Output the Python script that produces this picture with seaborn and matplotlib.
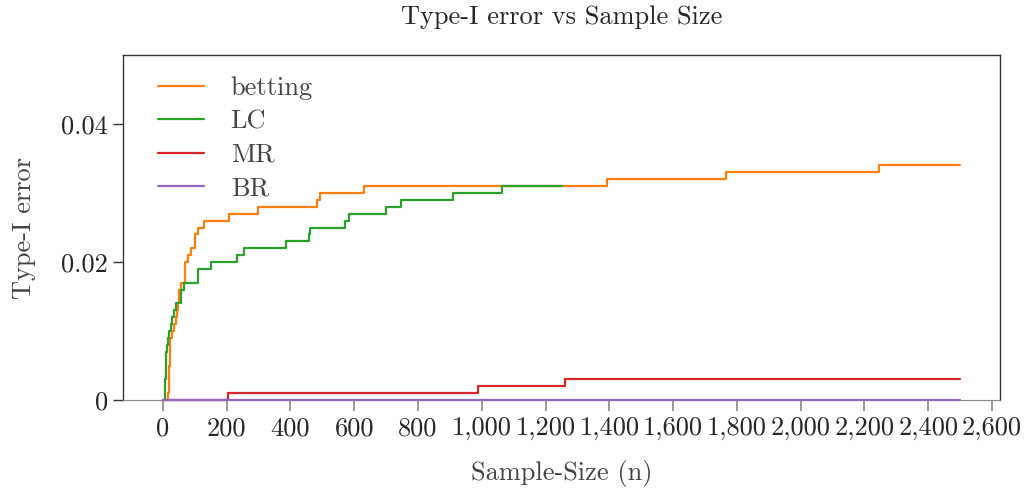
import numpy as np
import pandas as pd
import seaborn as sns
from matplotlib import pyplot as plt
from matplotlib.ticker import FuncFormatter, MultipleLocator

# step points (n where the running type-I error changes, value after the change)
betting_n = [1, 17, 18, 19, 21, 23, 28, 35, 40, 44, 48, 52, 57, 68, 80, 89, 101, 109,
             129, 207, 300, 484, 492, 632, 1392, 1767, 2245, 2500]
betting_err = [0, 0.001, 0.003, 0.005, 0.007, 0.009, 0.010, 0.011, 0.012, 0.013, 0.014,
               0.016, 0.017, 0.020, 0.021, 0.022, 0.024, 0.025, 0.026, 0.027, 0.028,
               0.029, 0.030, 0.031, 0.032, 0.033, 0.034, 0.034]

lc_n = [1, 7, 8, 10, 11, 14, 17, 20, 25, 30, 35, 42, 50, 58, 65, 109, 150, 233, 254,
        387, 458, 463, 570, 585, 700, 747, 911, 1062, 1252]
lc_err = [0, 0.001, 0.003, 0.005, 0.007, 0.008, 0.009, 0.010, 0.011, 0.012, 0.013,
          0.014, 0.014, 0.016, 0.017, 0.019, 0.020, 0.021, 0.022, 0.023, 0.024, 0.025,
          0.026, 0.027, 0.028, 0.029, 0.030, 0.031, 0.031]

mr_n = [1, 203, 987, 1262, 2500]
mr_err = [0, 0.001, 0.002, 0.003, 0.003]

br_n = [1, 2500]
br_err = [0, 0]

methods = ["betting", "LC", "MR", "BR"]
colors = ["#ff7f0e", "#2ca02c", "#d62728", "#9467bd"]

df = pd.concat([
    pd.DataFrame({"n": betting_n, "err": betting_err, "method": "betting"}),
    pd.DataFrame({"n": lc_n, "err": lc_err, "method": "LC"}),
    pd.DataFrame({"n": mr_n, "err": mr_err, "method": "MR"}),
    pd.DataFrame({"n": br_n, "err": br_err, "method": "BR"}),
])

sns.set_style("ticks")
plt.rcParams["font.family"] = ["cmr10", "DejaVu Serif"]
plt.rcParams["mathtext.fontset"] = "cm"
plt.rcParams["axes.formatter.use_mathtext"] = True

fs = 19
fig = plt.figure(figsize=(10.28, 4.91), dpi=100)
ax = fig.add_axes([0.1196, 0.1853, 0.8532, 0.7027])

sns.lineplot(df, x="n", y="err", hue="method", hue_order=methods,
             palette=colors, drawstyle="steps-post", linewidth=1.6,
             estimator=None, zorder=3, clip_on=False, ax=ax)

ax.set_xlim(-125, 2625)
ax.set_ylim(0, 0.05)
ax.xaxis.set_major_locator(MultipleLocator(200))
ax.xaxis.set_major_formatter(FuncFormatter(lambda v, p: f"{int(v):,}"))
ax.set_yticks([0, 0.02, 0.04])
ax.yaxis.set_major_formatter(FuncFormatter(lambda v, p: f"{v:g}"))
ax.tick_params(axis="x", direction="out", length=8, width=1.2, color="#888888",
               labelsize=fs, pad=4)
ax.tick_params(axis="y", direction="out", length=7, width=1.0, color="#333333",
               labelsize=fs, pad=4)

for side in ["left", "top", "right"]:
    ax.spines[side].set_color("#333333")
    ax.spines[side].set_linewidth(1.0)
ax.spines["bottom"].set_color("#888888")

ax.set_title("Type-I error vs Sample Size", fontsize=fs, pad=22)
ax.set_xlabel("Sample-Size (n)", fontsize=fs, color="#444444", labelpad=14)
ax.set_ylabel("Type-I error", fontsize=fs, color="#444444", labelpad=18)

leg = ax.legend(loc="upper left", bbox_to_anchor=(0.028, 0.968), frameon=False,
                handlelength=1.75, handletextpad=1.0, fontsize=fs,
                labelspacing=0.36, borderaxespad=0)
for t in leg.get_texts():
    t.set_color("#444444")

fig.savefig("out.png", dpi=100)
